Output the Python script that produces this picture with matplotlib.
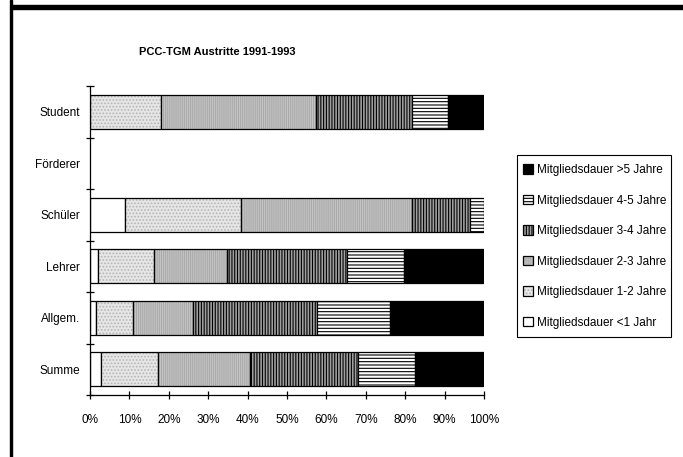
import numpy as np
import matplotlib.pyplot as plt
from matplotlib.patches import Patch, Rectangle

plt.rcParams['font.family'] = ['Liberation Sans', 'DejaVu Sans']
plt.rcParams['hatch.linewidth'] = 0.8

# categories from bottom to top, values in percent of each group
categories = ['Summe', 'Allgem.', 'Lehrer', 'Schüler', 'Förderer', 'Student']
under_1 = [2.8, 1.6, 2.0, 9.0, 0, 0]
years_1_2 = [14.5, 9.4, 14.2, 29.2, 0, 18.1]
years_2_3 = [23.4, 15.2, 18.5, 43.6, 0, 39.3]
years_3_4 = [27.4, 31.3, 30.6, 14.6, 0, 24.4]
years_4_5 = [14.4, 18.6, 14.3, 3.6, 0, 9.1]
over_5 = [17.5, 23.9, 20.4, 0, 0, 9.1]

series = [under_1, years_1_2, years_2_3, years_3_4, years_4_5, over_5]
labels = ['Mitgliedsdauer <1 Jahr', 'Mitgliedsdauer 1-2 Jahre',
          'Mitgliedsdauer 2-3 Jahre', 'Mitgliedsdauer 3-4 Jahre',
          'Mitgliedsdauer 4-5 Jahre', 'Mitgliedsdauer >5 Jahre']
x_ticks = list(range(0, 101, 10))

# (face colour, hatch, hatch colour) per series
styles = [('white', '', 'black'),
          ('#e6e6e6', '.....', '#b4b4b4'),
          ('#c6c6c6', '||||||||', '#aaaaaa'),
          ('#a0a0a0', '||||||', 'black'),
          ('white', '-----', 'black'),
          ('black', '', 'black')]

fig = plt.figure(figsize=(6.83, 4.57), dpi=100)
ax = fig.add_axes([90 / 683, 1 - 395 / 457, 394 / 683, 309 / 457])

y = np.arange(len(categories))
left = np.zeros(len(categories))
handles = []
for vals, (fc, hatch, hc) in zip(series, styles):
    vals = np.array(vals, dtype=float)
    m = vals > 0
    # fill + hatch first, black outline on top
    ax.barh(y[m], vals[m], left=left[m], height=0.66, color=fc,
            hatch=hatch, edgecolor=hc, linewidth=0)
    ax.barh(y[m], vals[m], left=left[m], height=0.66, fill=False,
            edgecolor='black', linewidth=0.9)
    left += vals
    handles.append((Patch(facecolor=fc, hatch=hatch, edgecolor=hc, linewidth=0),
                    Patch(fill=False, edgecolor='black', linewidth=0.9)))

ax.set_xlim(0, 100)
ax.set_ylim(-0.5, len(categories) - 0.5)
for s in ['top', 'right']:
    ax.spines[s].set_visible(False)
for s in ['left', 'bottom']:
    ax.spines[s].set_linewidth(0.9)

ax.set_xticks(x_ticks)
ax.set_xticklabels([f'{v}%' for v in x_ticks], fontsize=8.5)
ax.tick_params(axis='x', direction='inout', length=6, width=0.9, pad=11)

ax.set_yticks(y)
ax.set_yticklabels(categories, fontsize=8.5)
ax.set_yticks(np.arange(-0.5, len(categories), 1), minor=True)
ax.tick_params(axis='y', which='major', length=0, pad=7)
ax.tick_params(axis='y', which='minor', direction='inout', length=6, width=0.9)

fig.text(217 / 683, 1 - 52 / 457, 'PCC-TGM Austritte 1991-1993',
         ha='center', va='center', fontsize=8, fontweight='bold')

leg = fig.legend(handles[::-1], labels[::-1], loc='upper left',
                 bbox_to_anchor=(523 / 683, 1 - 164 / 457), fontsize=8.5,
                 frameon=False, labelspacing=1.57, handlelength=0.85,
                 handleheight=0.85, handletextpad=0.35, borderpad=0,
                 borderaxespad=0)

# legend box
fig.add_artist(Rectangle((517 / 683, 1 - 337 / 457), 154 / 683, 182 / 457,
                         transform=fig.transFigure, fill=False,
                         edgecolor='black', linewidth=0.8))

# page frame lines
fig.add_artist(Rectangle((11 / 683, 1 - 9 / 457), 672 / 683, 4.5 / 457,
                         transform=fig.transFigure, color='black'))
fig.add_artist(Rectangle((10 / 683, 0), 2 / 683, 1,
                         transform=fig.transFigure, color='black'))

fig.savefig('out.png', dpi=100)
